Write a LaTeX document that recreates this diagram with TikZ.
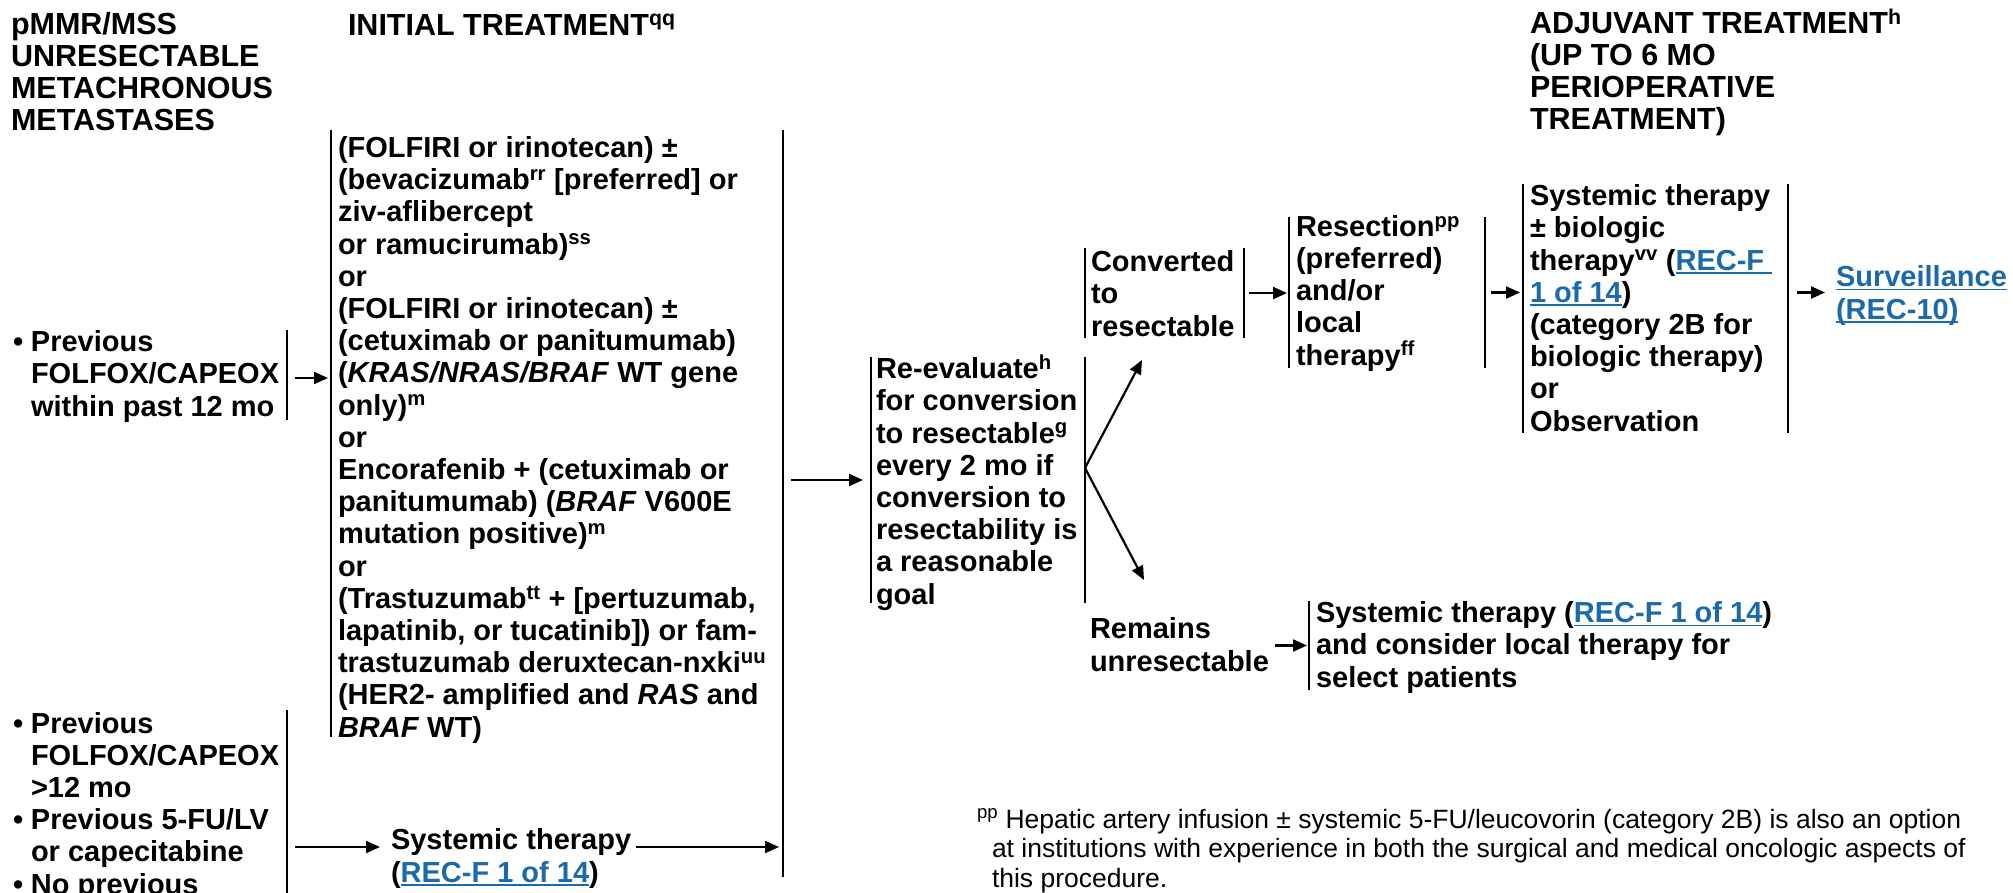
\documentclass[tikz,border=0pt]{standalone}
\usepackage{fontspec}
\setmainfont{Liberation Sans}
\usetikzlibrary{arrows.meta}
\definecolor{linkblue}{HTML}{1B6AAB}
\newcommand\fn[1]{\textsuperscript{#1}}
\newcommand\lnk[1]{{\color{linkblue}\setbox0\hbox{#1}\rlap{\rule[-3.5pt]{\wd0}{1.6pt}}\box0}}
\newcommand\itm{\makebox[18pt][l]{\textbullet}}
\newcommand\ind{\hspace*{18pt}}

\begin{document}
\begin{tikzpicture}[x=1pt,y=-1pt,
  every node/.style={inner sep=0pt,outer sep=0pt},
  % multi-line texts are placed by the baseline of their last line
  txt/.style={anchor=base west,align=left,font=\bfseries\fontsize{29}{32.2}\selectfont},
  head/.style={anchor=base west,align=left,font=\bfseries\fontsize{30.5}{31.7}\selectfont},
  note/.style={anchor=base west,align=left,font=\fontsize{26.5}{29.5}\selectfont},
  box/.style 2 args={minimum width=#1pt,minimum height=#2pt,anchor=north west},
  bar/.style={line width=2.2pt},
  arr/.style={line width=2.2pt,-{Triangle[length=14pt,width=12pt]}}]

\fill[white] (0,0) rectangle (2013,892);
\clip (0,0) rectangle (2013,892);

% column heads
\node[head] (hd-pmmr) at (11,130) {pMMR/MSS\\UNRESECTABLE\\METACHRONOUS\\METASTASES};
\node[head] (hd-init) at (348,35) {INITIAL TREATMENT\fn{qq}};
\node[head] (hd-adj) at (1530,129) {ADJUVANT TREATMENT\fn{h}\\(UP TO 6 MO\\PERIOPERATIVE\\TREATMENT)};

% bracket boxes
\node[box={0}{90}] (g1) at (287,330) {};
\node[box={0}{190}] (g2) at (287,710) {};
\node[box={452}{747}] (init) at (331,130) {};
\node[box={214}{246}] (reeval) at (871,357) {};
\node[box={159}{90}] (conv) at (1085,248) {};
\node[box={196}{151}] (resect) at (1289,217) {};
\node[box={265}{249}] (adj) at (1523,184) {};
\node[box={0}{89}] (rem) at (1309,601) {};

\draw[bar] (g1.north west) -- (g1.south west);
\draw[bar] (g2.north west) -- (g2.south west);
\draw[bar] (init.north west) -- ([yshift=140pt]init.south west);
\draw[bar] (init.north east) -- (init.south east);
\foreach \b in {reeval,conv,resect,adj}{
  \draw[bar] (\b.north west) -- (\b.south west);
  \draw[bar] (\b.north east) -- (\b.south east);
}
\draw[bar] (rem.north west) -- (rem.south west);

% texts
\node[txt] (g1-t) at (13,416) {\itm Previous\\\ind FOLFOX/CAPEOX\\\ind within past 12 mo};
\node[txt] (g2-t) at (13,894) {\itm Previous\\\ind FOLFOX/CAPEOX\\\ind >12 mo\\\itm Previous 5-FU/LV\\\ind or capecitabine\\\itm No previous};
\node[txt] (init-t) at (338,737) {(FOLFIRI or irinotecan) ±\\
  (bevacizumab\fn{rr} [preferred] or\\
  ziv-aflibercept\\
  or ramucirumab)\fn{ss}\\
  or\\
  (FOLFIRI or irinotecan) ±\\
  (cetuximab or panitumumab)\\
  (\textit{KRAS/NRAS/BRAF} WT gene\\
  only)\fn{m}\\
  or\\
  Encorafenib + (cetuximab or\\
  panitumumab) (\textit{BRAF} V600E\\
  mutation positive)\fn{m}\\
  or\\
  (Trastuzumab\fn{tt} + [pertuzumab,\\
  lapatinib, or tucatinib]) or fam-\\
  trastuzumab deruxtecan-nxki\fn{uu}\\
  (HER2- amplified and \textit{RAS} and\\
  \textit{BRAF} WT)};
\node[txt] (st1) at (391,882) {Systemic therapy\\(\lnk{REC-F 1 of 14})};
\node[txt] (reeval-t) at (876,604) {Re-evaluate\fn{h}\\for conversion\\to resectable\fn{g}\\every 2 mo if\\conversion to\\resectability is\\a reasonable\\goal};
\node[txt] (conv-t) at (1091,336) {Converted\\to\\resectable};
\node[txt] (resect-t) at (1296,365) {Resection\fn{pp}\\(preferred)\\and/or\\local\\therapy\fn{ff}};
\node[txt] (adj-t) at (1530,431) {Systemic therapy\\± biologic\\therapy\fn{vv} (\lnk{REC-F }\\\lnk{1 of 14})\\(category 2B for\\biologic therapy)\\or\\Observation};
\node[txt] (surv) at (1836,319) {\lnk{Surveillance}\\\lnk{(REC-10)}};
\node[txt] (rem-t) at (1090,671) {Remains\\unresectable};
\node[txt] (rem2-t) at (1316,687) {Systemic therapy (\lnk{REC-F 1 of 14})\\and consider local therapy for\\select patients};
\node[note] (fn-pp) at (977,887) {\fn{pp} Hepatic artery infusion ± systemic 5-FU/leucovorin (category 2B) is also an option\\
  \hspace*{15pt}at institutions with experience in both the surgical and medical oncologic aspects of\\
  \hspace*{15pt}this procedure.};

% arrows
\coordinate (up) at (1142,360);
\coordinate (dn) at (1144,580);
\draw[arr] ([shift={(8pt,-3pt)}]g1.east) -- ([shift={(-3pt,-3pt)}]init.west |- g1.east);
\draw[arr] ([shift={(8pt,35pt)}]g2.east |- st1.base) -- ([shift={(-11pt,35pt)}]st1.base west);
\draw[arr] ([shift={(5pt,35pt)}]st1.east |- st1.base) -- ([shift={(-4pt,35pt)}]init.east |- st1.base);
\draw[arr] ([xshift=8pt]init.east |- reeval.west) -- ([xshift=-8pt]reeval.west);
\draw[arr] ([yshift=12pt]reeval.east) -- (up);
\draw[arr] ([yshift=12pt]reeval.east) -- (dn);
\draw[arr] ([xshift=5pt]conv.east) -- ([xshift=-2pt]resect.west |- conv.east);
\draw[arr] ([xshift=6pt]resect.east) -- ([xshift=-3pt]adj.west |- resect.east);
\draw[arr] ([xshift=9pt]adj.east |- resect.east) -- ([xshift=-11pt]surv.west |- resect.east);
\draw[arr] ([xshift=6pt]rem-t.east |- rem.west) -- ([xshift=-2pt]rem.west);
\end{tikzpicture}
\end{document}
